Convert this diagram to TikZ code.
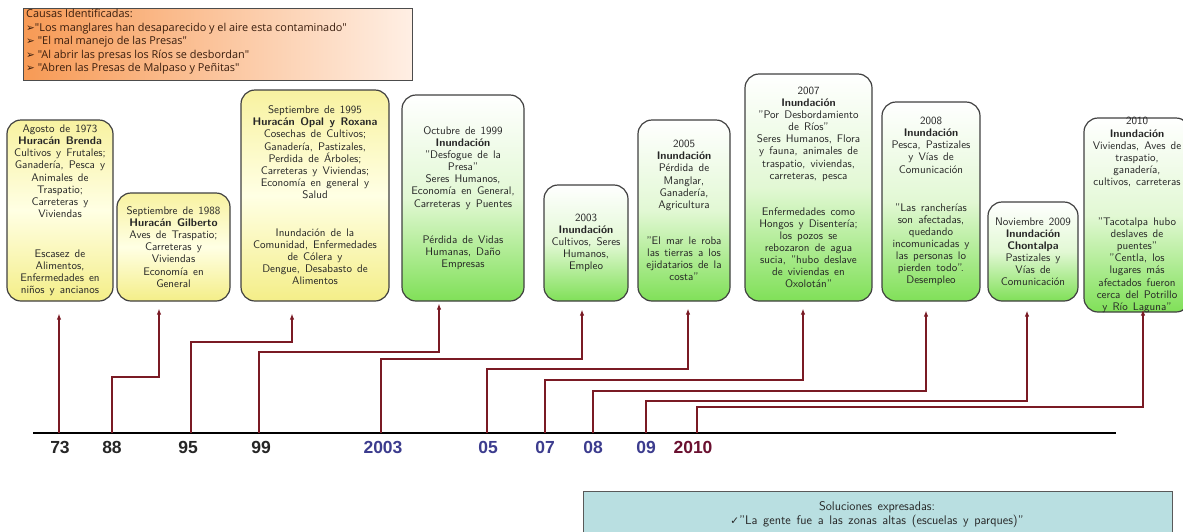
\documentclass[tikz,border=0pt]{standalone}
\usepackage{fontspec}
\setsansfont{Latin Modern Sans}[WordSpace=1.4]
\newfontfamily\dejavu{DejaVu Sans}
\newfontfamily\osans{Open Sans}
\newfontfamily\lsans{Liberation Sans}
\usetikzlibrary{arrows.meta,calc}
\definecolor{conncol}{HTML}{7A1A24}
\definecolor{yla}{HTML}{F8F2A0}
\definecolor{ylb}{HTML}{FFFFE4}
\definecolor{ylc}{HTML}{F4EE88}
\definecolor{grb}{HTML}{E2F8D4}
\definecolor{grc}{HTML}{80E058}
\definecolor{orl}{HTML}{F79A55}
\definecolor{orr}{HTML}{FFEFE4}
\definecolor{solfill}{HTML}{B9DFE1}
\definecolor{tlblue}{HTML}{3C3C8E}
\definecolor{tlred}{HTML}{6A1030}
\definecolor{causetxt}{HTML}{3A1E0E}
\begin{document}
\begin{tikzpicture}[x=1pt,y=-1pt,
  box/.style={draw=black!75, line width=1.2pt, rounded corners=14pt, inner sep=0pt},
  ybox/.style={box, top color=yla, bottom color=ylc, middle color=ylb},
  gbox/.style={box, top color=white, bottom color=grc, middle color=grb},
  txt/.style={align=center, inner sep=0pt, font=\sffamily\fontsize{11}{12.1}\selectfont, text=black!85},
  conn/.style={draw=conncol, line width=1.8pt, -{Latex[length=6pt,width=4.5pt]}},
  tl/.style={font=\lsans\bfseries\fontsize{17.5}{17.5}\selectfont, inner sep=0pt},
  tline/.style={draw=black, line width=2.4pt}
]
\useasboundingbox (0,0) rectangle (1183,531);

% causes box
\node[draw=black!70, line width=1pt, left color=orl, right color=orr, minimum width=389, minimum height=72, inner sep=0pt] (causas) at (217.5,44) {};
\node[anchor=north west, align=left, inner sep=0pt, text=causetxt, font=\osans\fontsize{10.9}{13.5}\selectfont] (causastxt) at (26,9) {Causas Identificadas:\\
{\dejavu\fontsize{10.5}{13.5}\selectfont ➢}"Los manglares han desaparecido y el aire esta contaminado"\\
{\dejavu\fontsize{10.5}{13.5}\selectfont ➢} "El mal manejo de las Presas"\\
{\dejavu\fontsize{10.5}{13.5}\selectfont ➢} "Al abrir las presas los Ríos se desbordan"\\
{\dejavu\fontsize{10.5}{13.5}\selectfont ➢} "Abren las Presas de Malpaso y Peñitas"};

% event boxes
\node[ybox, minimum width=106, minimum height=181] (b1) at (60,210.5) {};
\node[txt] (t1) at (b1) {Agosto de 1973\\ \textbf{Huracán Brenda}\\ Cultivos y Frutales;\\ Ganadería, Pesca y\\ Animales de\\ Traspatio;\\ Carreteras y\\ Viviendas\\[28pt] Escasez de\\ Alimentos,\\ Enfermedades en\\ niños y ancianos};

\node[ybox, minimum width=113, minimum height=108] (b2) at (173.5,247) {};
\node[txt] (t2) at (b2) {Septiembre de 1988\\ \textbf{Huracán Gilberto}\\ Aves de Traspatio;\\ Carreteras y\\ Viviendas\\ Economía en\\ General};

\node[ybox, minimum width=148, minimum height=211] (b3) at (315,195.5) {};
\node[txt] (t3) at (b3) {Septiembre de 1995\\ \textbf{Huracán Opal y Roxana}\\ Cosechas de Cultivos;\\ Ganadería, Pastizales,\\ Perdida de Árboles;\\ Carreteras y Viviendas;\\ Economía en general y\\ Salud\\[26pt] Inundación de la\\ Comunidad, Enfermedades\\ de Cólera y\\ Dengue, Desabasto de\\ Alimentos};

\node[gbox, minimum width=122, minimum height=206] (b4) at (463,198) {};
\node[txt] (t4) at (b4) {Octubre de 1999\\ \textbf{Inundación}\\ "Desfogue de la\\ Presa"\\ Seres Humanos,\\ Economía en General,\\ Carreteras y Puentes\\[24pt] Pérdida de Vidas\\ Humanas, Daño\\ Empresas};

\node[gbox, minimum width=84, minimum height=116] (b5) at (586,243) {};
\node[txt] (t5) at (b5) {2003\\ \textbf{Inundación}\\ Cultivos, Seres\\ Humanos,\\ Empleo};

\node[gbox, minimum width=92, minimum height=181] (b6) at (684,210.5) {};
\node[txt] (t6) at (b6) {2005\\ \textbf{Inundación}\\ Pérdida de\\ Manglar,\\ Ganadería,\\ Agricultura\\[24pt] "El mar le roba\\ las tierras a los\\ ejidatarios de la\\ costa"};

\node[gbox, minimum width=127, minimum height=227] (b7) at (808.5,187.5) {};
\node[txt] (t7) at (b7) {2007\\ \textbf{Inundación}\\ "Por Desbordamiento\\ de Ríos"\\ Seres Humanos, Flora\\ y fauna, animales de\\ traspatio, viviendas,\\ carreteras, pesca\\[24pt] Enfermedades como\\ Hongos y Disentería;\\ los pozos se\\ rebozaron de agua\\ sucia, "hubo deslave\\ de viviendas en\\ Oxolotán"};

\node[gbox, minimum width=98, minimum height=199] (b8) at (931,201.5) {};
\node[txt] (t8) at (b8) {2008\\ \textbf{Inundación}\\ Pesca, Pastizales\\ y Vías de\\ Comunicación\\[26pt] "Las rancherías\\ son afectadas,\\ quedando\\ incomunicadas y\\ las personas lo\\ pierden todo".\\ Desempleo};

\node[gbox, minimum width=90, minimum height=99] (b9) at (1033,251.5) {};
\node[txt] (t9) at (b9) {Noviembre 2009\\ \textbf{Inundación}\\ \textbf{Chontalpa}\\ Pastizales y\\ Vías de\\ Comunicación};

\node[gbox, minimum width=106, minimum height=194] (b10) at (1137,215) {};
\node[txt] (t10) at (b10) {2010\\ \textbf{Inundación}\\ Viviendas, Aves de\\ traspatio,\\ ganadería,\\ cultivos, carreteras\\[28pt] "Tacotalpa hubo\\ deslaves de\\ puentes"\\ "Centla, los\\ lugares más\\ afectados fueron\\ cerca del Potrillo\\ y Río Laguna"};

% timeline
\coordinate (tstart) at (33,433);
\coordinate (tend) at (1116,433);
\draw[tline] (tstart) -- (tend);

\coordinate (p73) at (59,433);
\coordinate (p88) at (112,433);
\coordinate (p95) at (191,433);
\coordinate (p99) at (259,433);
\coordinate (p03) at (381,433);
\coordinate (p05) at (487,433);
\coordinate (p07) at (545,433);
\coordinate (p08) at (593,433);
\coordinate (p09) at (646,433);
\coordinate (p10) at (697,433);

\draw[conn] (p73) -- ($(b1.south)+(-1,12)$);
\draw[conn] (p88) -- ++(0,-56) -| ($(b2.south)+(-14.5,7)$);
\draw[conn] (p95) -- ++(0,-91) -| ($(b3.south)+(-23,12)$);
\draw[conn] (p99) -- ++(0,-81) -| ($(b4.south)+(-24,2)$);
\draw[conn] (p03) -- ++(0,-74) -| ($(b5.south)+(-4,8)$);
\draw[conn] (p05) -- ++(0,-64) -| ($(b6.south)+(4,7)$);
\draw[conn] (p07) -- ++(0,-53) -| ($(b7.south)+(-5.5,7)$);
\draw[conn] (p08) -- ++(0,-42) -| ($(b8.south)+(-5,9)$);
\draw[conn] (p09) -- ++(0,-32) -| ($(b9.south)+(-6,9)$);
\draw[conn] (p10) -- ++(0,-26) -| ($(b10.south)+(6,-3)$);

\node[tl, text=black!85] (l73) at (60,447) {73};
\node[tl, text=black!85] (l88) at (112,447) {88};
\node[tl, text=black!85] (l95) at (188,447) {95};
\node[tl, text=black!85] (l99) at (261,447) {99};
\node[tl, text=tlblue] (l03) at (383,447) {2003};
\node[tl, text=tlblue] (l05) at (488,447) {05};
\node[tl, text=tlblue] (l07) at (545,447) {07};
\node[tl, text=tlblue] (l08) at (593,447) {08};
\node[tl, text=tlblue] (l09) at (646,447) {09};
\node[tl, text=tlred] (l10) at (693,447) {2010};

% solutions box
\node[draw=black!65, line width=1pt, fill=solfill, minimum width=589, minimum height=54, inner sep=0pt] (sol) at (877.5,518) {};
\node[align=center, inner sep=0pt, text=black!85, font=\sffamily\fontsize{12.5}{13.5}\selectfont] (soltxt) at (877,514.5) {Soluciones expresadas:\\ {\dejavu\fontsize{10.5}{13.5}\selectfont ✓}"La gente fue a las zonas altas (escuelas y parques)"};
\end{tikzpicture}
\end{document}
